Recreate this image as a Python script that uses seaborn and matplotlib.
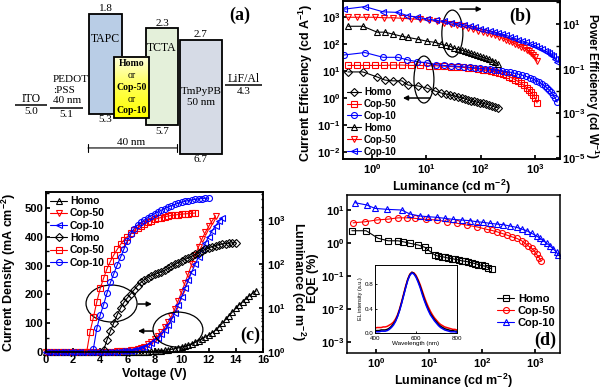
import numpy as np
import matplotlib
matplotlib.use("Agg")
import matplotlib.pyplot as plt
from matplotlib.patches import Rectangle, Ellipse
from matplotlib.colors import LinearSegmentedColormap
from matplotlib.ticker import (FixedLocator, NullLocator, MultipleLocator, FuncFormatter,
                               LogLocator, NullFormatter)
import seaborn as sns

# ------------------------------
# 1. Data
# ------------------------------
devices = ["Homo", "Cop-50", "Cop-10"]
dev_colors = ["black", "red", "blue"]

# (a) energy levels in eV
layer_names = ["TAPC", "TCTA", "TmPyPB"]
layer_lumo = [1.8, 2.3, 2.7]
layer_homo = [5.3, 5.7, 6.7]
eml_levels = [3.3, 5.45]          # schematic only, no values printed
electrode_names = ["ITO", "PEDOT\n:PSS\n40 nm", "LiF/Al"]
electrode_levels = [5.0, 5.1, 4.3]

# (b) efficiency vs luminance
b_lum_homo = [0.36, 0.68, 1.24, 1.73, 2.44, 3.57, 4.6, 7.0, 10.3, 14.5, 18.7, 23, 27.3, 32.4,
              38.4, 45.5, 51.5, 58.5, 66, 75, 85, 97, 110, 125, 142, 162, 185, 209]
ce_homo = [9.2, 9.2, 6.0, 4.6, 4.3, 4.3, 3.0, 2.8, 2.3, 1.8, 1.53, 1.4, 1.29, 1.19, 1.09, 1.0,
           0.92, 0.84, 0.77, 0.74, 0.71, 0.65, 0.63, 0.6, 0.55, 0.5, 0.46, 0.43]
pe_homo = [7.9, 7.9, 4.3, 4.3, 3.5, 2.8, 2.5, 2.07, 1.68, 1.5, 1.23, 1.1, 1.0, 0.81, 0.73, 0.66,
           0.6, 0.54, 0.48, 0.44, 0.39, 0.355, 0.32, 0.29, 0.26, 0.23, 0.19, 0.155]

b_lum_c50 = [0.36, 0.53, 0.78, 1.14, 1.66, 2.44, 3.57, 5.2, 7.7, 11.2, 15.7, 21.2, 28.5, 36.7,
             47.4, 58.6, 72.4, 89.6, 111, 131, 156, 184, 218, 259, 294, 334, 379, 430, 489, 555,
             630, 716, 779, 848, 922, 1004, 1093]
ce_c50 = [16, 16, 16, 16, 16, 16.5, 16.5, 16, 16, 15.5, 15.5, 15, 14.5, 14, 13.5, 13, 12.5, 12,
          11, 10.5, 10, 9.2, 8.5, 7.6, 7, 6.2, 5.5, 4.8, 4.1, 3.5, 2.9, 2.3, 1.9, 1.6, 1.3, 1.0, 0.65]
pe_c50 = [20, 20, 20, 20, 19, 19, 18, 17, 16, 14.5, 13, 11.5, 10, 9, 7.8, 6.8, 5.8, 5.1, 4.5, 4.1,
          3.6, 3.1, 2.7, 2.3, 2.0, 1.75, 1.5, 1.3, 1.1, 0.95, 0.82, 0.7, 0.6, 0.5, 0.42, 0.33, 0.21]

b_lum_c10 = [0.305, 0.74, 1.6, 3.0, 4.4, 6.7, 10.3, 15.1, 21.2, 28.5, 38.4, 49.4, 63.8, 78.8,
             97.5, 120, 149, 177, 209, 248, 294, 348, 412, 489, 578, 686, 812, 922, 1047, 1189,
             1351, 1535, 1671, 1819, 1980, 2155, 2346, 2553]
ce_c10 = [39, 48, 32, 32, 26, 22, 20, 17, 16, 15.3, 14.8, 14.2, 13.5, 13, 12.5, 12, 11.5, 11,
          10.5, 10, 9.5, 9, 8.3, 7.6, 7, 6.3, 5.5, 5, 4.4, 3.8, 3.2, 2.7, 2.3, 2.0, 1.6, 1.3, 1.0, 0.7]
pe_c10 = [46, 60, 35, 33, 24, 20, 17, 14.5, 13, 11.5, 10, 9, 8, 7, 6.2, 5.5, 4.9, 4.4, 3.9, 3.5,
          3.1, 2.7, 2.3, 2.0, 1.75, 1.5, 1.3, 1.15, 1.0, 0.85, 0.72, 0.62, 0.55, 0.5, 0.42, 0.35,
          0.27, 0.2]

# (c) J-V-L, voltage sweep in 0.25 V steps
sweep = np.arange(0, 16, 0.25)
j_homo = [0, 0, 0, 0, 0, 0, 0, 0, 0, 0, 0, 0, 0.1, 0.1, 0.1, 0.1, 0.2, 0.2, 0.2, 0.3, 0.3, 0.4,
          0.4, 0.5, 0.6, 0.7, 0.8, 0.9,
          1.0, 1.3, 1.7, 2.2, 3.0, 3.8, 4.8, 6.0, 7.5, 9.2, 11.5, 14, 17, 20.5, 24.5, 29, 34,
          39.5, 45.5, 52, 59, 67, 76, 86, 100, 113, 126, 139, 152, 164, 175, 185, 195, 204, 212]
j_c50 = [0, 0, 0, 0, 0, 0, 0, 0, 0, 0, 0, 0, 0.2, 0.3, 0.4, 0.5, 0.6, 0.8, 1.0, 1.3, 1.6, 2.0,
         2.5, 3.2,
         4, 5.5, 7.5, 10, 14, 19, 27, 36, 45, 56, 70, 86, 104, 124, 150, 178, 208, 240, 272, 305,
         337, 365, 392, 415, 436, 455, 472]
j_c10 = [0, 0, 0, 0, 0, 0, 0, 0, 0, 0, 0, 0, 0.1, 0.2, 0.3, 0.4, 0.5, 0.6, 0.8, 1.0, 1.2, 1.5,
         1.9, 2.4,
         3, 4.5, 6.5, 9, 12.5, 17, 24, 32, 40, 50, 62, 77, 94, 113, 137, 164, 192, 222, 250, 278,
         305, 330, 355, 378, 400, 420, 438, 453, 466]
lum_homo = [1.1, 1.9, 3.0, 4.6, 7, 10, 13.5, 17, 21, 26, 32, 38, 44, 49, 54, 58, 62, 66, 72, 80,
            88, 98, 108, 118, 128, 138, 150, 165, 180, 198, 215, 232, 248, 262, 275, 285, 292,
            298, 303, 306]
lum_c50 = [1.0, 2.9, 6.2, 14, 28, 48, 78, 115, 160, 215, 280, 350, 420, 500, 580, 660, 740, 820,
           900, 970, 1030, 1090, 1140, 1190, 1230, 1270, 1300, 1330, 1360, 1380, 1400, 1420, 1440]
lum_c10 = [1.2, 3.5, 7, 12, 22, 38, 60, 95, 143, 220, 340, 480, 640, 760, 880, 1000, 1130, 1260,
           1390, 1520, 1670, 1820, 1970, 2120, 2270, 2410, 2540, 2660, 2770, 2870, 2950, 3020,
           3080, 3120, 3150]
lum_start_v = [4.25, 3.0, 3.5]

# (d) EQE vs luminance
d_lum_homo = [0.35, 0.65, 1.1, 1.7, 2.6, 3.2, 4.4, 6.3, 8.4, 9.7, 13, 15, 17.4, 20, 23, 27, 31,
              36, 41, 48, 55, 64, 74, 85, 98, 113, 131, 152]
eqe_homo = [2.36, 2.36, 1.39, 1.17, 1.17, 1.1, 0.98, 0.87, 0.74, 0.61, 0.43, 0.40, 0.39, 0.37,
            0.35, 0.34, 0.32, 0.31, 0.29, 0.28, 0.27, 0.25, 0.24, 0.22, 0.21, 0.20, 0.18, 0.166]
d_lum_c50 = [0.37, 0.62, 1.03, 1.7, 2.6, 3.8, 5.4, 8.8, 14, 21.6, 33, 51, 79, 122, 152, 190, 235,
             292, 362, 450, 560, 647, 750, 866, 975, 1070, 1190, 1300]
eqe_c50 = [4.1, 4.4, 5.0, 5.3, 5.8, 5.8, 5.6, 5.2, 5.0, 4.4, 4.0, 3.5, 3.1, 2.6, 2.42, 2.2, 1.97,
           1.75, 1.55, 1.39, 1.17, 0.98, 0.81, 0.69, 0.57, 0.45, 0.36, 0.29]
d_lum_c10 = [0.40, 0.67, 0.96, 1.59, 3.05, 4.38, 6.76, 9.7, 14, 20, 28.8, 41.3, 59.4, 79.4, 106,
             142, 189, 253, 338, 451, 561, 697, 866, 1077, 1243, 1436, 1660, 1918, 2216, 2562, 2750]
eqe_c10 = [16.7, 14.2, 11.2, 10.5, 10.0, 7.56, 6.59, 6.28, 6.0, 5.6, 5.2, 4.97, 4.75, 4.42, 4.23,
           3.94, 3.76, 3.59, 3.27, 2.98, 2.65, 2.36, 1.96, 1.63, 1.39, 1.18, 0.98, 0.81, 0.66,
           0.52, 0.43]

# (d) inset: EL spectra, 10 nm steps
wavelength = np.arange(400, 801, 10)
el_homo = [0.04, 0.04, 0.04, 0.05, 0.05, 0.05, 0.06, 0.08, 0.11, 0.15, 0.20, 0.28, 0.38, 0.50,
           0.63, 0.76, 0.88, 0.96, 1.00, 0.98, 0.93, 0.86, 0.77, 0.67, 0.56, 0.47, 0.39, 0.32,
           0.27, 0.22, 0.18, 0.14, 0.11, 0.09, 0.07, 0.06, 0.05, 0.04, 0.04, 0.03, 0.03]
el_c50 = [0.08, 0.09, 0.09, 0.09, 0.10, 0.10, 0.11, 0.13, 0.15, 0.18, 0.23, 0.30, 0.40, 0.52,
          0.65, 0.78, 0.89, 0.97, 1.00, 0.99, 0.95, 0.88, 0.80, 0.70, 0.60, 0.51, 0.43, 0.36,
          0.30, 0.25, 0.21, 0.17, 0.14, 0.12, 0.10, 0.09, 0.08, 0.07, 0.06, 0.06, 0.05]
el_c10 = [0.02, 0.02, 0.02, 0.03, 0.03, 0.03, 0.04, 0.06, 0.09, 0.13, 0.19, 0.27, 0.37, 0.49,
          0.62, 0.75, 0.87, 0.95, 0.99, 0.97, 0.92, 0.84, 0.75, 0.64, 0.54, 0.45, 0.37, 0.30,
          0.25, 0.20, 0.16, 0.12, 0.09, 0.07, 0.05, 0.04, 0.03, 0.02, 0.02, 0.02, 0.01]

# ------------------------------
# 2. Style
# ------------------------------
sns.set_theme(style="ticks")
plt.rcParams.update({
    "font.family": ["Liberation Sans", "DejaVu Sans"],
    "font.weight": "bold",
    "axes.labelweight": "bold",
    "mathtext.fontset": "custom",
    "mathtext.rm": "Liberation Sans:bold",
    "mathtext.it": "Liberation Sans:bold:italic",
    "mathtext.bf": "Liberation Sans:bold",
    "axes.edgecolor": "black",
    "axes.linewidth": 1.1,
    "text.color": "black",
    "axes.labelcolor": "black",
    "xtick.color": "black",
    "ytick.color": "black",
    "xtick.direction": "in",
    "ytick.direction": "in",
    "xtick.major.size": 3,
    "ytick.major.size": 3,
    "xtick.minor.size": 1.8,
    "ytick.minor.size": 1.8,
    "xtick.major.pad": 2.5,
    "ytick.major.pad": 2,
    "xtick.labelsize": 8,
    "ytick.labelsize": 8,
    "axes.labelsize": 9,
})
serif = ["Liberation Serif", "DejaVu Serif"]
pow10 = FuncFormatter(lambda v, p: r"$10^{%d}$" % int(round(np.log10(v))))

fig = plt.figure(figsize=(6, 3.91), dpi=100)


def px_box(x0, y0, x1, y1):
    return [x0 / 600, 1 - y1 / 391, (x1 - x0) / 600, (y1 - y0) / 391]


def series(ax, x, y, color, marker, label, ms=4.2, clip=True):
    sns.lineplot(x=x, y=y, ax=ax, color=color, marker=marker, ms=ms, mfc="none", mec=color,
                 mew=0.8, lw=0.8, label=label, legend=False, estimator=None, sort=False,
                 clip_on=clip)


def log_ticks(axis, values, minor=None):
    axis.set_major_locator(FixedLocator(values))
    axis.set_minor_locator(NullLocator() if minor is None else minor)
    axis.set_major_formatter(pow10)
    axis.set_minor_formatter(NullFormatter())


# ------------------------------
# 3. (a) energy level diagram
# ------------------------------
ax_a = fig.add_axes(px_box(0, 0, 300, 190))
box_x = [(89, 122), (146, 178), (180, 222)]
box_fill = ["#b9cde6", "#e4f0da", "#d6dbe6"]
name_shift = [-18, -14, None]
for i, (name, lumo, homo) in enumerate(zip(layer_names, layer_lumo, layer_homo)):
    x0, x1 = box_x[i]
    xc = (x0 + x1) / 2
    ax_a.add_patch(Rectangle((x0, lumo), x1 - x0, homo - lumo, fc=box_fill[i], ec="black",
                             lw=1.3, zorder=i + 1))
    ax_a.annotate(f"{lumo:.1f}", (xc, lumo), xytext=(0, 0.5), textcoords="offset points",
                  ha="center", va="bottom", family=serif, size=8, weight="normal")
    ax_a.annotate(f"{homo:.1f}", (xc, homo), xytext=(0, -1), textcoords="offset points",
                  ha="center", va="top", family=serif, size=8, weight="normal")
    if name_shift[i] is None:
        ax_a.text(xc, (lumo + homo) / 2, name + "\n50 nm", ha="center", va="center",
                  family=serif, size=8, weight="normal", zorder=10, linespacing=1.3)
    else:
        ax_a.annotate(name, (xc, lumo), xytext=(0, name_shift[i]), textcoords="offset points",
                      ha="center", va="center", family=serif, size=8.5, weight="normal",
                      zorder=10)

# emissive layer with yellow gradient
eml_x = (114, 149)
grad = np.linspace(0, 1, 100).reshape(-1, 1)
ycmap = LinearSegmentedColormap.from_list("y", ["#ffffe0", "#ffff50", "#ffff00"])
ax_a.imshow(grad, extent=(eml_x[0], eml_x[1], eml_levels[1], eml_levels[0]), origin="upper",
            cmap=ycmap, aspect="auto", zorder=4)
ax_a.add_patch(Rectangle((eml_x[0], eml_levels[0]), eml_x[1] - eml_x[0],
                         eml_levels[1] - eml_levels[0], fc="none", ec="black", lw=1.3, zorder=5))
eml_mid = (eml_levels[0] + eml_levels[1]) / 2
for txt, dy, wt in zip(["Homo", "or", "Cop-50", "or", "Cop-10"], [17, 8.5, 0, -8.5, -16.5],
                       ["bold", "normal", "bold", "normal", "bold"]):
    ax_a.annotate(txt, ((eml_x[0] + eml_x[1]) / 2, eml_mid), xytext=(0, dy),
                  textcoords="offset points", ha="center", va="center", family=serif,
                  size=7, weight=wt, zorder=10)

# electrodes
elec_x = [(15, 47), (50, 83), (225, 262)]
for name, lev, (x0, x1) in zip(electrode_names, electrode_levels, elec_x):
    ax_a.hlines(lev, x0, x1, color="black", lw=1.1)
    xc = (x0 + x1) / 2
    if "\n" in name:
        ax_a.annotate(name, (x0 + 3, lev), xytext=(0, 2.5), textcoords="offset points",
                      ha="left", va="bottom", family=serif, size=8, weight="normal",
                      linespacing=1.15)
    else:
        ax_a.annotate(name, (xc, lev), xytext=(0, 0.5), textcoords="offset points",
                      ha="center", va="bottom", family=serif, size=8.5, weight="normal")
    ax_a.annotate(f"{lev:.1f}", (xc, lev), xytext=(0, -1.5), textcoords="offset points",
                  ha="center", va="top", family=serif, size=8, weight="normal")

# 40 nm scale bar
ax_a.annotate("", xy=(88, 6.5), xytext=(177, 6.5),
              arrowprops=dict(arrowstyle="|-|, widthA=0.25, widthB=0.25", lw=0.8, color="black",
                              shrinkA=0, shrinkB=0))
ax_a.text(131, 6.45, "40 nm", ha="center", va="bottom", family=serif, size=8, weight="normal")
ax_a.text(0.8, 0.92, "(a)", transform=ax_a.transAxes, ha="center", va="center", family=serif,
          size=13, weight="bold")
ax_a.set_xlim(0, 300)
ax_a.set_ylim(7.975, 1.309)
ax_a.axis("off")

# ------------------------------
# 4. (b) current / power efficiency
# ------------------------------
ax_b = fig.add_axes(px_box(343, 1, 560, 159))
ax_b2 = ax_b.twinx()
for ax in (ax_b, ax_b2):
    ax.set_xscale("log")
    ax.set_yscale("log")
b_lums = [b_lum_homo, b_lum_c50, b_lum_c10]
for lum, ce, col, mk, lab in zip(b_lums, [ce_homo, ce_c50, ce_c10], dev_colors, ["D", "s", "o"],
                                 devices):
    series(ax_b, lum, ce, col, mk, lab, ms=4.0 if mk == "D" else 4.3)
for lum, pe, col, mk, lab in zip(b_lums, [pe_homo, pe_c50, pe_c10], dev_colors, ["^", "v", "<"],
                                 devices):
    series(ax_b2, lum, pe, col, mk, lab, ms=4.6)
ax_b.set_xlim(10 ** -0.534, 10 ** 3.46)
ax_b.set_ylim(10 ** -2.26, 10 ** 3.59)
ax_b2.set_ylim(10 ** -5.05, 10 ** 2.03)
log_ticks(ax_b.xaxis, [1, 10, 100, 1000])
log_ticks(ax_b.yaxis, [1e-2, 1e-1, 1, 10, 100, 1000])
log_ticks(ax_b2.yaxis, [1e-5, 1e-3, 1e-1, 10], minor=FixedLocator([1e-4, 1e-2, 1, 100]))
ax_b2.tick_params(axis="y", which="minor", length=3)
ax_b2.tick_params(axis="y", which="major", pad=1.5)
ax_b.set_xlabel("Luminance (cd m$^{-2}$)", labelpad=1)
ax_b.set_ylabel("Current Efficiency (cd A$^{-1}$)", va="center")
ax_b.yaxis.set_label_coords(-0.17, 0.48)
ax_b2.set_ylabel("Power Efficiency (cd W$^{-1}$)", rotation=270, va="center", fontsize=8.6)
ax_b2.yaxis.set_label_coords(1.148, 0.46)
ax_b2.legend(ax_b.get_lines() + ax_b2.get_lines(), devices + devices, loc="lower left",
             bbox_to_anchor=(0.0, -0.01), frameon=False, fontsize=7, handlelength=1.5,
             handletextpad=0.25, labelspacing=0.2, borderaxespad=0.2, borderpad=0.2)
ax_b2.add_patch(Ellipse((0.504, 0.794), 0.097, 0.297, transform=ax_b2.transAxes, fill=False,
                        ec="black", lw=0.9))
ax_b2.add_patch(Ellipse((0.373, 0.503), 0.092, 0.297, transform=ax_b2.transAxes, fill=False,
                        ec="black", lw=0.9))
arrow = dict(arrowstyle="-|>", color="black", lw=1.1, mutation_scale=7, shrinkA=0, shrinkB=0)
ax_b2.annotate("", xy=(0.64, 0.949), xytext=(0.539, 0.949), xycoords="axes fraction",
               arrowprops=arrow)
ax_b2.annotate("", xy=(0.276, 0.386), xytext=(0.401, 0.386), xycoords="axes fraction",
               arrowprops=arrow)
ax_b2.text(0.816, 0.905, "(b)", transform=ax_b2.transAxes, ha="center", va="center",
           family=serif, size=13, weight="bold")

# ------------------------------
# 5. (c) J-V-L
# ------------------------------
ax_c = fig.add_axes(px_box(46, 192, 263, 352))
ax_c2 = ax_c.twinx()
ax_c2.set_yscale("log")
for j, col, mk, lab in zip([j_homo, j_c50, j_c10], dev_colors, ["^", "v", "<"], devices):
    series(ax_c, sweep[:len(j)], j, col, mk, lab, ms=4.4, clip=False)
for lum, v0, col, mk, lab in zip([lum_homo, lum_c50, lum_c10], lum_start_v, dev_colors,
                                 ["D", "s", "o"], devices):
    volts = sweep[(sweep >= v0 - 1e-9)][:len(lum)]
    series(ax_c2, volts, lum, col, mk, lab, ms=4.0 if mk == "D" else 4.3)
ax_c.set_xlim(0, 16)
ax_c.set_ylim(0, 555)
ax_c.xaxis.set_major_locator(MultipleLocator(2))
ax_c.yaxis.set_major_locator(MultipleLocator(100))
ax_c.yaxis.set_minor_locator(MultipleLocator(50))
ax_c2.set_ylim(1, 4330)
log_ticks(ax_c2.yaxis, [1, 10, 100, 1000],
          minor=LogLocator(base=10, subs=np.arange(2, 10), numticks=20))
ax_c2.tick_params(axis="y", which="major", pad=3)
ax_c.set_xlabel("Voltage (V)", labelpad=2)
ax_c.set_ylabel("Current Density (mA cm$^{-2}$)", va="center")
ax_c.yaxis.set_label_coords(-0.17, 0.5)
ax_c2.set_ylabel("Luminance (cd m$^{-2}$)", rotation=270, va="center")
ax_c2.yaxis.set_label_coords(1.161, 0.44)
ax_c2.legend(ax_c.get_lines() + ax_c2.get_lines(), devices + devices, loc="upper left",
             bbox_to_anchor=(0.0, 1.0), frameon=False, fontsize=7.5, handlelength=1.6,
             handletextpad=0.3, labelspacing=0.22, borderaxespad=0.2, borderpad=0.2)
ax_c2.add_patch(Ellipse((0.302, 0.303), 0.235, 0.231, transform=ax_c2.transAxes, fill=False,
                        ec="black", lw=0.9))
ax_c2.add_patch(Ellipse((0.608, 0.14), 0.23, 0.219, transform=ax_c2.transAxes, fill=False,
                        ec="black", lw=0.9))
ax_c2.annotate("", xy=(0.488, 0.30), xytext=(0.424, 0.30), xycoords="axes fraction",
               arrowprops=arrow)
ax_c2.annotate("", xy=(0.424, 0.131), xytext=(0.493, 0.131), xycoords="axes fraction",
               arrowprops=arrow)
ax_c2.text(0.94, 0.106, "(c)", transform=ax_c2.transAxes, ha="center", va="center",
           family=serif, size=13, weight="bold")

# ------------------------------
# 6. (d) EQE with EL inset
# ------------------------------
ax_d = fig.add_axes(px_box(347, 195, 560, 353))
ax_d.set_xscale("log")
ax_d.set_yscale("log")
for lum, eqe, col, mk, lab in zip([d_lum_homo, d_lum_c50, d_lum_c10], [eqe_homo, eqe_c50, eqe_c10],
                                  dev_colors, ["s", "o", "^"], devices):
    series(ax_d, lum, eqe, col, mk, lab, ms=4.3)
ax_d.set_xlim(10 ** -0.547, 10 ** 3.47)
ax_d.set_ylim(10 ** -3.33, 10 ** 1.455)
log_ticks(ax_d.xaxis, [1, 10, 100, 1000])
log_ticks(ax_d.yaxis, [1e-3, 1e-2, 1e-1, 1, 10])
ax_d.set_xlabel("Luminance (cd m$^{-2}$)", labelpad=1)
ax_d.set_ylabel("EQE (%)", va="center")
ax_d.yaxis.set_label_coords(-0.16, 0.475)
ax_d.legend(loc="lower right", bbox_to_anchor=(1.0, 0.13), frameon=False, fontsize=8,
            handlelength=1.6, handletextpad=0.3, labelspacing=0.2, borderaxespad=0.2,
            borderpad=0.2)
ax_d.text(0.93, 0.082, "(d)", transform=ax_d.transAxes, ha="center", va="center",
          family=serif, size=13, weight="bold")

ax_in = fig.add_axes(px_box(375, 265, 457, 333))
for el, col in zip([el_c50, el_homo, el_c10], ["red", "black", "blue"]):
    sns.lineplot(x=wavelength, y=el, ax=ax_in, color=col, lw=1.1, legend=False, estimator=None)
ax_in.set_xlim(400, 800)
ax_in.set_ylim(0, 1.12)
ax_in.set_xticks([400, 600, 800])
ax_in.set_yticks([0.0, 0.4, 0.8])
ax_in.set_yticklabels(["0.0", "0.4", "0.8"])
ax_in.tick_params(labelsize=4.5, length=1.5, width=0.6, pad=1)
ax_in.tick_params(axis="x", pad=1.8)
for lab in ax_in.get_xticklabels() + ax_in.get_yticklabels():
    lab.set_fontweight("normal")
for s in ax_in.spines.values():
    s.set_linewidth(0.7)
ax_in.set_xlabel("Wavelength (nm)", fontsize=4.5, weight="normal", labelpad=0.5)
ax_in.set_ylabel("EL intensity (a.u.)", fontsize=4, weight="normal", labelpad=1)

fig.savefig("out.png", dpi=100)
